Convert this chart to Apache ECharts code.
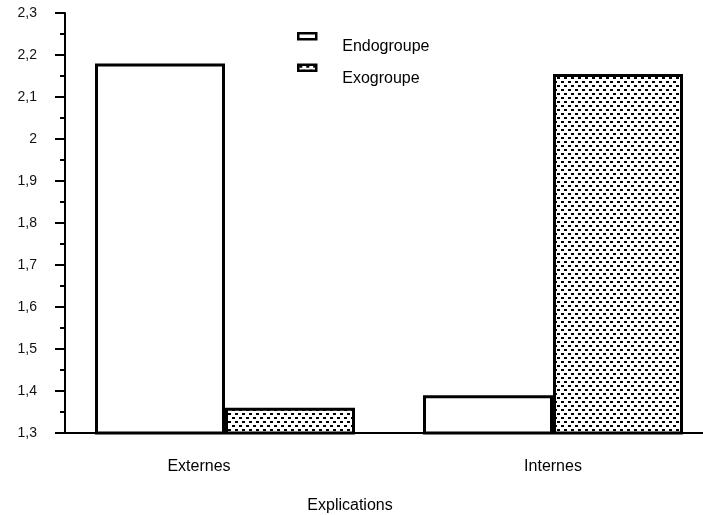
<!DOCTYPE html>
<html>
<head>
<meta charset="UTF-8">
<title>Explications</title>
<script src="https://cdn.jsdelivr.net/npm/echarts@6/dist/echarts.min.js"></script>
<style>
  html, body { margin: 0; padding: 0; background: #fff; }
  #chart { width: 703px; height: 515px; }
</style>
</head>
<body>
<div id="chart"></div>
<script>
// donnees
var categories = ['Externes', 'Internes'];
var seriesNames = ['Endogroupe', 'Exogroupe'];
var endoValues = [2.18, 1.39];
var exoValues = [1.36, 2.155];

// motif pointille pour Exogroupe
function makeDots() {
  var c = document.createElement('canvas');
  c.width = 14;
  c.height = 8;
  var ctx = c.getContext('2d');
  ctx.fillStyle = '#fff';
  ctx.fillRect(0, 0, 14, 8);
  ctx.fillStyle = '#000';
  ctx.fillRect(1, 1, 3, 2);
  ctx.fillRect(8, 1, 3, 2);
  ctx.fillRect(4, 5, 3, 2);
  ctx.fillRect(11, 5, 3, 2);
  return c;
}

var chart = echarts.init(document.getElementById('chart'));
var font = 'Liberation Sans, Arial, sans-serif';
// petit rectangle place en haut de la case de legende
var legendIcon = 'path://M0,0 H18 V6 H0 Z M0,27';

var option = {
  animation: false,
  backgroundColor: '#fff',
  title: {
    text: 'Explications',
    left: 350,
    top: 498,
    padding: 0,
    textAlign: 'center',
    textStyle: { fontFamily: font, fontSize: 16, fontWeight: 'normal', color: '#000' }
  },
  legend: {
    orient: 'vertical',
    left: 297,
    top: 32,
    padding: 0,
    icon: legendIcon,
    itemWidth: 18,
    itemHeight: 27,
    itemGap: 2,
    data: seriesNames,
    itemStyle: { borderColor: '#000', borderWidth: 2.5 },
    textStyle: { fontFamily: font, fontSize: 16, color: '#000', padding: [0, 0, 0, 21] }
  },
  grid: { left: 61, right: -14, top: 13, bottom: 82, outerBoundsMode: 'none' },
  xAxis: {
    type: 'category',
    data: categories,
    axisLine: { lineStyle: { color: '#000', width: 2 } },
    axisTick: { alignWithLabel: true, length: 8, lineStyle: { color: '#000', width: 2 } },
    axisLabel: {
      margin: 26,
      fontFamily: font,
      fontSize: 16,
      color: '#000',
      formatter: function (v) { return v === 'Externes' ? '{ext|' + v + '}' : v; },
      rich: { ext: { fontFamily: font, fontSize: 16, color: '#000', padding: [0, 52, 0, 0] } }
    }
  },
  yAxis: {
    type: 'value',
    min: 1.3,
    max: 2.3,
    interval: 0.1,
    offset: -4,
    axisLine: { show: true, lineStyle: { color: '#000', width: 2 } },
    axisTick: { show: true, length: 10, lineStyle: { color: '#000', width: 2 } },
    minorTick: { show: true, splitNumber: 2, length: 5, lineStyle: { color: '#000', width: 2 } },
    splitLine: { show: false },
    axisLabel: {
      margin: 28,
      fontFamily: font,
      fontSize: 14,
      color: '#111',
      formatter: function (v) { return String(Math.round(v * 10) / 10).replace('.', ','); }
    }
  },
  series: [
    {
      name: seriesNames[0],
      type: 'bar',
      data: endoValues,
      barWidth: 130,
      barGap: '0%',
      itemStyle: { color: '#fff', borderColor: '#000', borderWidth: 3 }
    },
    {
      name: seriesNames[1],
      type: 'bar',
      data: exoValues,
      barWidth: 130,
      barGap: '0%',
      itemStyle: { color: { image: makeDots(), repeat: 'repeat' }, borderColor: '#000', borderWidth: 3 }
    }
  ]
};

chart.setOption(option);
</script>
</body>
</html>
